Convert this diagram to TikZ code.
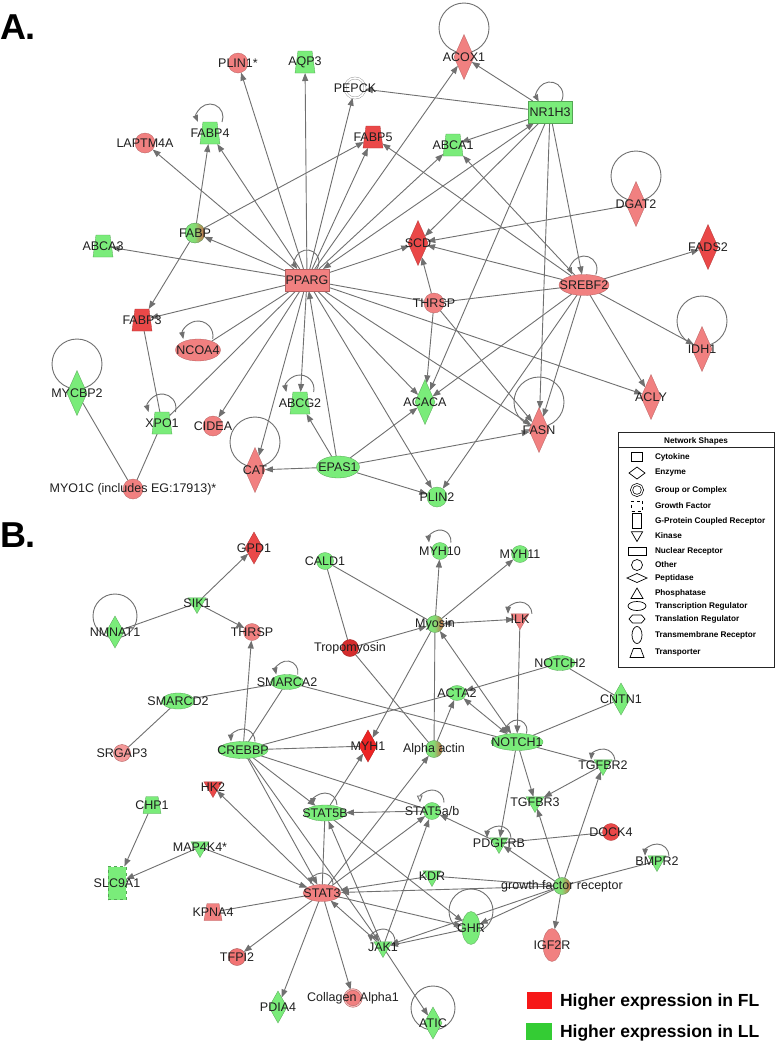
\documentclass[tikz,border=0pt]{standalone}
\usepackage{fontspec}
\setmainfont{Liberation Sans}
\usetikzlibrary{shapes.geometric,arrows.meta,calc,backgrounds}

\definecolor{upred}{RGB}{241,128,128}
\definecolor{upredd}{RGB}{234,72,72}
\definecolor{upreddd}{RGB}{236,36,36}
\definecolor{tropred}{RGB}{212,45,45}
\definecolor{upgreen}{RGB}{122,236,122}
\definecolor{mixbrown}{RGB}{205,100,70}
\definecolor{linkgray}{RGB}{112,112,112}
\definecolor{keyred}{RGB}{246,24,24}
\definecolor{keygreen}{RGB}{52,204,52}

\newcommand{\genefont}{\fontsize{12.5}{14}\selectfont}
\newcommand{\keyfont}{\fontsize{8.2}{9}\selectfont\bfseries}
\newcommand{\exprfont}{\fontsize{17.5}{20}\selectfont\bfseries}
\newcommand{\panelfont}{\fontsize{36}{40}\selectfont\bfseries}

% loop that starts on the top border of a node (node, centre offset, half height, radius)
\newcommand{\nodeloop}[5][]{%
  \draw[loopa,#1] ($(#2)+({-#5*cos(asin((#3-#4)/#5))},{-#4})$)
    arc[start angle={180-asin((#3-#4)/#5)}, end angle={360+asin((#3-#4)/#5)}, radius=#5];}
% big loop, drawn as a whole circle over the node
\newcommand{\bigloop}[3]{\draw[link] ($(#1)+(0,-#2)$) circle[radius=#3];}

\tikzset{
every node/.style={inner sep=0pt, outer sep=0pt},
genetext/.style={font=\genefont, text=black!88},
gene/.style={label={[genetext]center:{#1}}},
link/.style={draw=linkgray, line width=0.9pt},
arr/.style={link, -{Triangle[length=8pt,width=6pt]}},
biarr/.style={link, {Triangle[length=8pt,width=6pt]}-{Triangle[length=8pt,width=6pt]}},
loopa/.style={link, {Triangle[length=7pt,width=5.5pt]}-},
up/.style={fill=upred, draw=upred!75!black, line width=0.3pt},
upd/.style={fill=upredd, draw=upredd!75!black, line width=0.3pt},
updd/.style={fill=upreddd, draw=upreddd!75!black, line width=0.3pt},
down/.style={fill=upgreen, draw=upgreen!70!black, line width=0.3pt},
mixed/.style={left color=upgreen, right color=mixbrown, middle color=upgreen!85!mixbrown,
  draw=upgreen!60!black, line width=0.3pt},
othA/.style={circle, minimum size=20pt},
othB/.style={circle, minimum size=17pt},
nrec/.style={rectangle, minimum width=44pt, minimum height=22pt},
treg/.style 2 args={ellipse, minimum width=#1, minimum height=#2},
enzA/.style={diamond, inner sep=1pt, minimum width=20pt, minimum height=45pt},
enzB/.style={diamond, inner sep=1pt, minimum width=18pt, minimum height=32pt},
trpA/.style={trapezium, inner sep=1pt, trapezium stretches=true, trapezium left angle=78,
  trapezium right angle=78, minimum width=20pt, minimum height=22pt},
trpB/.style={trapezium, inner sep=1pt, trapezium stretches=true, trapezium left angle=76,
  trapezium right angle=76, minimum width=18pt, minimum height=17pt},
kin/.style={regular polygon, regular polygon sides=3, shape border rotate=180, minimum size=21pt},
tmr/.style={ellipse, minimum width=18pt, minimum height=33pt},
gfac/.style={rectangle, dashed, minimum width=18pt, minimum height=33pt},
panel/.style={font=\panelfont, anchor=base west},
keyglyph/.style={draw=black, line width=0.7pt, fill=white},
keytext/.style={font=\keyfont, anchor=west},
}

\begin{document}
\begin{tikzpicture}[x=1pt,y=-1pt]
\useasboundingbox (0,0) rectangle (776,1045);

\node[panel] (labA) at (0,39) {A.};
\node[panel] (labB) at (0,547) {B.};

% ---------------- network A
\node[othA,up,gene=PLIN1*] (plin1) at (238,63) {};
\node[trpA,down,gene=AQP3] (aqp3) at (305,62) {};
\node[othA,fill=white,draw=linkgray!80,double=white,double distance=1.6pt,gene=PEPCK] (pepck) at (355,88) {};
\node[othA,up,gene=LAPTM4A] (laptm) at (145,143) {};
\node[trpA,down,gene=FABP4] (fabp4) at (210,133) {};
\node[trpA,upd,gene=FABP5] (fabp5) at (373,137) {};
\node[othA,mixed,gene=FABP] (fabp) at (195,233) {};
\node[trpA,down,gene=ABCA3] (abca3) at (103,246) {};
\node[enzA,up,gene=ACOX1] (acox1) at (464,57) {};
\node[nrec,down,gene=NR1H3] (nr1h3) at (550,112) {};
\node[trpA,down,gene=ABCA1] (abca1) at (453,145) {};
\node[enzA,up,gene=DGAT2] (dgat2) at (636,204) {};
\node[enzA,upd,gene=FADS2] (fads2) at (708,247) {};
\node[enzA,upd,gene=SCD] (scd) at (418,243) {};
\node[nrec,up,gene=PPARG] (pparg) at (307,280) {};
\node[trpA,upd,gene=FABP3] (fabp3) at (142,320) {};
\node[treg={45}{22},up,gene=NCOA4] (ncoa4) at (198,350) {};
\node[enzA,down,gene=MYCBP2] (mycbp2) at (77,393) {};
\node[trpA,down,gene=XPO1] (xpo1) at (162,423) {};
\node[othA,up,gene=CIDEA] (cidea) at (213,426) {};
\node[trpA,down,gene=ABCG2] (abcg2) at (300,403) {};
\node[enzA,up,gene=CAT] (cat) at (255,470) {};
\node[treg={43}{22},down,gene=EPAS1] (epas1) at (338,467) {};
\node[othA,up,gene={MYO1C (includes EG:17913)*}] (myo1c) at (133,489) {};
\node[treg={50}{21},up,gene=SREBF2] (srebf2) at (584,285) {};
\node[othA,up,gene=THRSP] (thrspa) at (434,303) {};
\node[enzA,up,gene=IDH1] (idh1) at (702,349) {};
\node[enzA,down,gene=ACACA] (acaca) at (425,402) {};
\node[enzA,up,gene=FASN] (fasn) at (539,430) {};
\node[enzA,up,gene=ACLY] (acly) at (651,397) {};
\node[othA,down,gene=PLIN2] (plin2) at (437,497) {};

% ---------------- network B
\node[enzB,upd,gene=GPD1] (gpd1) at (254,548) {};
\node[kin,down,gene=SIK1] (sik1) at (197,603) {};
\node[enzB,down,gene=NMNAT1] (nmnat1) at (115,632) {};
\node[othB,up,gene=THRSP] (thrspb) at (252,632) {};
\node[othB,down,gene=CALD1] (cald1) at (325,561) {};
\node[othB,down,gene=MYH10] (myh10) at (440,551) {};
\node[othB,down,gene=MYH11] (myh11) at (520,554) {};
\node[othB,mixed,gene=Myosin] (myosin) at (435,624) {};
\node[kin,up,gene=ILK] (ilk) at (520,619) {};
\node[othB,fill=tropred,draw=tropred!80!black,gene=Tropomyosin] (tropo) at (350,648) {};
\node[treg={33}{15},down,gene=SMARCA2] (smarca2) at (287,682) {};
\node[treg={33}{16},down,gene=SMARCD2] (smarcd2) at (178,701) {};
\node[othB,fill=upred!80!white,draw=upred!75!black,gene=SRGAP3] (srgap3) at (122,753) {};
\node[treg={50}{17},down,gene=CREBBP] (crebbp) at (243,750) {};
\node[enzB,updd,gene=MYH1] (myh1) at (368,746) {};
\node[kin,upd,gene=HK2] (hk2) at (213,787) {};
\node[trpB,down,gene=CHP1] (chp1) at (152,805) {};
\node[treg={42}{16},down,gene=STAT5B] (stat5b) at (325,813) {};
\node[kin,down,gene=MAP4K4*] (map4k4) at (200,847) {};
\node[gfac,down,gene=SLC9A1] (slc9a1) at (117,883) {};
\node[treg={30}{15},down,gene=NOTCH2] (notch2) at (560,663) {};
\node[treg={18}{15},down,gene=ACTA2] (acta2) at (457,693) {};
\node[enzB,down,gene=CNTN1] (cntn1) at (621,699) {};
\node[treg={52}{17},down,gene=NOTCH1] (notch1) at (517,742) {};
\node[othB,mixed,gene=Alpha actin] (alphaact) at (434,749) {};
\node[kin,down,gene=TGFBR2] (tgfbr2) at (603,765) {};
\node[kin,down,gene=TGFBR3] (tgfbr3) at (535,802) {};
\node[othB,down,gene=STAT5a/b] (stat5ab) at (432,811) {};
\node[othB,upd,gene=DOCK4] (dock4) at (611,832) {};
\node[kin,down,gene=PDGFRB] (pdgfrb) at (499,843) {};
\node[kin,down,gene=BMPR2] (bmpr2) at (657,861) {};
\node[kin,down,gene=KDR] (kdr) at (432,876) {};
\node[othB,mixed,gene=growth factor receptor] (gfr) at (562,886) {};
\node[treg={38}{17},up,gene=STAT3] (stat3) at (322,893) {};
\node[trpB,up,gene=KPNA4] (kpna4) at (213,912) {};
\node[kin,down,gene=JAK1] (jak1) at (383,947) {};
\node[tmr,down,gene=GHR] (ghr) at (471,928) {};
\node[tmr,up,gene=IGF2R] (igf2r) at (552,945) {};
\node[othB,fill=upred!90!red,draw=upred!70!black,gene=TFPI2] (tfpi2) at (237,957) {};
\node[othB,fill=upred,draw=upred!70!black,double=upred!60!white,double distance=1.2pt,gene=Collagen Alpha1] (coll) at (353,998) {};
\node[enzB,down,gene=PDIA4] (pdia4) at (278,1007) {};
\node[enzB,down,gene=ATIC] (atic) at (433,1023) {};

% ---------------- legend of shapes
\node[draw=black!85,line width=0.8pt,fill=white,minimum width=156,minimum height=235,anchor=north west] (keybox) at (618,432) {};
\node[font=\keyfont] (keytitle) at (696,441) {Network Shapes};
\draw[black!85,line width=0.8pt] ($(keybox.north west)+(0,15)$) -- ($(keybox.north east)+(0,15)$);
\node[keyglyph,rectangle,minimum width=11,minimum height=9] (g1) at (637,457) {};
\node[keyglyph,diamond,inner sep=0.5pt,minimum width=16,minimum height=12] (g2) at (637,473) {};
\node[keyglyph,circle,minimum size=11,double=white,double distance=1.3pt] (g3) at (637,490) {};
\node[keyglyph,rectangle,dashed,minimum width=11,minimum height=10] (g4) at (637,506) {};
\node[keyglyph,rectangle,minimum width=9,minimum height=15] (g5) at (637,521) {};
\node[keyglyph,regular polygon,regular polygon sides=3,shape border rotate=180,minimum size=13] (g6) at (637,535) {};
\node[keyglyph,rectangle,minimum width=18,minimum height=8] (g7) at (637,551) {};
\node[keyglyph,circle,minimum size=11] (g8) at (637,565) {};
\node[keyglyph,diamond,inner sep=0.5pt,minimum width=20,minimum height=9] (g9) at (637,578) {};
\node[keyglyph,regular polygon,regular polygon sides=3,minimum size=14] (g10) at (637,595) {};
\node[keyglyph,ellipse,minimum width=18,minimum height=9] (g11) at (637,606) {};
\coordinate (g12) at (637,619);
\draw[keyglyph] ($(g12)+(-8,0)$) -- ($(g12)+(-4.5,-4)$) -- ($(g12)+(4.5,-4)$) -- ($(g12)+(8,0)$)
  -- ($(g12)+(4.5,4)$) -- ($(g12)+(-4.5,4)$) -- cycle;
\node[keyglyph,ellipse,minimum width=10,minimum height=17] (g13) at (637,635) {};
\node[keyglyph,trapezium,inner sep=1pt,trapezium stretches=true,trapezium left angle=65,trapezium right angle=65,minimum width=14,minimum height=9] (g14) at (637,653) {};
\node[keytext] (t1) at (655,457) {Cytokine};
\node[keytext] (t2) at (655,473) {Enzyme};
\node[keytext] (t3) at (655,490) {Group or Complex};
\node[keytext] (t4) at (655,506) {Growth Factor};
\node[keytext] (t5) at (655,521) {G-Protein Coupled Receptor};
\node[keytext] (t6) at (655,536) {Kinase};
\node[keytext] (t7) at (655,551) {Nuclear Receptor};
\node[keytext] (t8) at (655,565) {Other};
\node[keytext] (t9) at (655,578) {Peptidase};
\node[keytext] (t10) at (655,593) {Phosphatase};
\node[keytext] (t11) at (655,606) {Transcription Regulator};
\node[keytext] (t12) at (655,619) {Translation Regulator};
\node[keytext] (t13) at (655,635) {Transmembrane Receptor};
\node[keytext] (t14) at (655,653) {Transporter};

% expression legend
\node[fill=keyred,minimum width=25,minimum height=17] (keyfl) at (539.5,1000.5) {};
\node[fill=keygreen,minimum width=26,minimum height=17] (keyll) at (539,1031.5) {};
\node[font=\exprfont,anchor=west] (keyfltext) at (560,1002) {Higher expression in FL};
\node[font=\exprfont,anchor=west] (keylltext) at (560,1033) {Higher expression in LL};

\begin{pgfonlayer}{background}
\fill[white] (0,0) rectangle (776,1045);
% network A connectors
\path (pparg) edge[arr] (plin1) edge[arr] (aqp3) edge[arr] (pepck) edge[arr] (laptm)
  edge[arr] (fabp4) edge[arr] (fabp5) edge[arr] (fabp) edge[arr] (abca3)
  edge[arr] (fabp3) edge[arr] (cidea) edge[arr] (cat) edge[arr] (abcg2)
  edge[arr] (acaca) edge[arr] (plin2) edge[arr] (fasn) edge[arr] (scd)
  edge[arr] (acly) edge[arr] (acox1) edge[arr] (abca1) edge[biarr] (nr1h3)
  edge[link] (ncoa4) edge[link] (xpo1) edge[link] (thrspa);
\path (epas1) edge[arr] (pparg) edge[arr] (cat) edge[arr] (abcg2) edge[arr] (acaca)
  edge[arr] (fasn) edge[arr] (plin2);
\path (nr1h3) edge[arr] (pepck) edge[arr] (acox1) edge[arr] (abca1) edge[arr] (scd)
  edge[arr] (acaca) edge[arr] (fasn) edge[arr] (srebf2);
\path (srebf2) edge[arr] (fads2) edge[arr] (scd) edge[arr] (idh1) edge[arr] (acly)
  edge[arr] (fasn) edge[arr] (acaca) edge[arr] (plin2) edge[arr] (abca1)
  edge[arr] (fabp5) edge[link] (thrspa);
\path (dgat2) edge[arr] (scd);
\path (thrspa) edge[arr] (scd) edge[arr] (acaca) edge[arr] (fasn);
\path (fabp) edge[arr] (fabp4) edge[arr] (fabp5) edge[arr] (fabp3);
\path (fabp3) edge[link] (xpo1);
\path (myo1c) edge[link] (xpo1) edge[link] (mycbp2);
\nodeloop{nr1h3}{17}{10.5}{13}
\nodeloop{fabp4}{16}{11}{13}
\nodeloop{pparg}{18}{11}{12}
\nodeloop{ncoa4}{14}{11}{15}
\nodeloop{xpo1}{15}{11}{14}
\nodeloop{abcg2}{14}{11}{14}
\nodeloop{srebf2}{16}{10.5}{13}
\bigloop{acox1}{29}{25}
\bigloop{dgat2}{28}{25}
\bigloop{mycbp2}{29}{25}
\bigloop{cat}{28}{25}
\bigloop{idh1}{28}{25}
\bigloop{fasn}{28}{25}
% network B connectors
\path (sik1) edge[arr] (gpd1) edge[arr] (thrspb) edge[link] (nmnat1);
\path (crebbp) edge[arr] (thrspb) edge[arr] (stat5b) edge[arr] (stat3) edge[arr] (jak1)
  edge[link] (smarca2) edge[link] (myh1) edge[link] (acta2) edge[link] (stat5ab);
\path (smarca2) edge[link] (smarcd2) edge[link] (notch1);
\path (smarcd2) edge[link] (srgap3);
\path (cald1) edge[link] (myosin) edge[link] (tropo);
\path (myosin) edge[arr] (myh10) edge[arr] (myh11) edge[arr] (myh1)
  edge[biarr] (notch1) edge[biarr] (ilk) edge[link] (alphaact);
\path (ilk) edge[arr] (notch1);
\path (tropo) edge[arr] (myosin) edge[link] (alphaact);
\path (alphaact) edge[arr] (acta2);
\path (notch1) edge[biarr] (acta2) edge[arr] (tgfbr3) edge[arr] (pdgfrb)
  edge[link] (cntn1) edge[link] (tgfbr2);
\path (notch2) edge[arr] (acta2) edge[link] (cntn1);
\path (tgfbr2) edge[arr] (tgfbr3);
\path (gfr) edge[arr] (tgfbr2) edge[arr] (tgfbr3) edge[arr] (pdgfrb) edge[arr] (ghr)
  edge[arr] (igf2r) edge[arr] (stat3) edge[arr] (jak1) edge[link] (bmpr2) edge[link] (kdr);
\path (pdgfrb) edge[arr] (stat5ab) edge[link] (dock4);
\path (stat5b) edge[arr] (myh1) edge[arr] (ghr) edge[link] (stat3);
\path (stat5ab) edge[arr] (stat5b);
\path (stat3) edge[arr] (alphaact) edge[arr] (stat5ab) edge[arr] (hk2) edge[arr] (tfpi2)
  edge[arr] (pdia4) edge[arr] (coll) edge[arr] (ghr) edge[link] (kpna4);
\path (jak1) edge[arr] (stat3) edge[arr] (stat5b) edge[arr] (stat5ab) edge[arr] (atic);
\path (ghr) edge[arr] (jak1);
\path (map4k4) edge[arr] (stat3) edge[arr] (slc9a1);
\path (chp1) edge[arr] (slc9a1);
\path (kdr) edge[arr] (stat3);
\nodeloop{myh10}{10}{8.5}{11}
\nodeloop{smarca2}{10}{7.5}{11}
\nodeloop{crebbp}{9}{8.5}{12}
\nodeloop{stat5b}{8}{8}{12}
\nodeloop{notch1}{12}{8.5}{10}
\nodeloop[{Triangle[open,fill=white,length=7pt,width=5.5pt]}-]{stat5ab}{9}{8.5}{12}
\nodeloop{tgfbr2}{4}{5.25}{12}
\nodeloop{pdgfrb}{5}{5.25}{12}
\nodeloop{bmpr2}{5}{5.25}{12}
\nodeloop{jak1}{6}{5.25}{12}
\nodeloop{ilk}{5}{5.25}{12}
\nodeloop{stat3}{9}{8.5}{11}
\bigloop{ghr}{17}{22}
\bigloop{atic}{15}{22}
\bigloop{nmnat1}{16}{22}
\end{pgfonlayer}
\end{tikzpicture}
\end{document}
